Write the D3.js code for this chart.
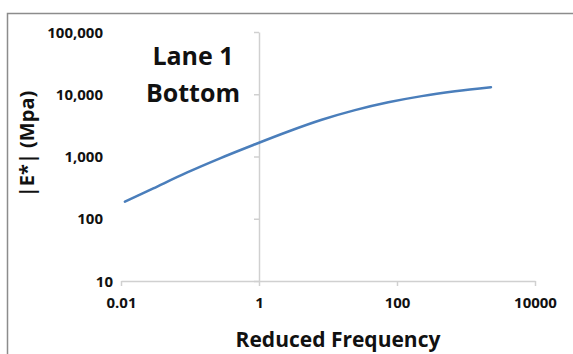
<!DOCTYPE html>
<html>
<head>
<meta charset="utf-8">
<script src="https://cdn.jsdelivr.net/npm/d3@7"></script>
<style>
  html, body { margin: 0; padding: 0; background: #fff; }
  svg { display: block; }
  text { font-family: "Open Sans", "Liberation Sans", sans-serif; font-weight: 700; fill: #111; }
</style>
</head>
<body>
<svg id="chart" width="573" height="354"></svg>
<script>
// Master curve of dynamic modulus |E*| against reduced frequency
const frequency = [0.0114, 0.0294, 0.0895, 0.272, 0.826, 2.66, 8.11, 24.6, 74.8, 228, 693, 2300];
const modulus   = [188, 308, 550, 935, 1531, 2523, 3890, 5560, 7430, 9330, 11140, 13000];

const xTicks = [0.01, 1, 100, 10000];
const xTickLabels = ["0.01", "1", "100", "10000"];
const yTicks = [10, 100, 1000, 10000, 100000];
const yTickLabels = ["10", "100", "1,000", "10,000", "100,000"];

const titleLines = ["Lane 1", "Bottom"];
const xTitle = "Reduced Frequency";
const yTitle = "|E*| (Mpa)";

const svg = d3.select("#chart");

// outer chart frame
svg.append("rect")
  .attr("x", 7.5).attr("y", 13.5)
  .attr("width", 700).attr("height", 500)
  .attr("fill", "none")
  .attr("stroke", "#8c8c8c")
  .attr("stroke-width", 1.5);

const x = d3.scaleLog().domain([0.01, 10000]).range([121, 535]);
const y = d3.scaleLog().domain([10, 100000]).range([281, 32]);

const axisColor = "#d0d0d0";

// x axis along the bottom, y axis crossing at frequency 1
const xAxis = svg.append("g")
  .attr("transform", `translate(0,${y(10)})`)
  .call(d3.axisBottom(x).tickValues(xTicks).tickSize(5).tickSizeOuter(0)
        .tickFormat((d, i) => xTickLabels[i]));

const yAxis = svg.append("g")
  .attr("transform", `translate(${x(1)},0)`)
  .call(d3.axisLeft(y).tickValues(yTicks).tickSize(5).tickSizeOuter(0)
        .tickFormat((d, i) => yTickLabels[i]));

[xAxis, yAxis].forEach(g => {
  g.select(".domain").attr("stroke", axisColor).attr("stroke-width", 1.5);
  g.selectAll(".tick line").attr("stroke", axisColor).attr("stroke-width", 1.5);
  g.selectAll(".tick text").attr("fill", "#111").style("font-size", "15px")
    .style("font-family", "'Open Sans', sans-serif").style("font-weight", 700);
});
xAxis.selectAll(".tick text").attr("dy", "1.25em");

// y labels sit out at the left edge of the plot
yAxis.selectAll(".tick text")
  .attr("x", d => d === 10 ? 113 - x(1) : 103 - x(1))
  .attr("dy", "0.34em");

// modulus curve
const line = d3.line()
  .x((d, i) => x(frequency[i]))
  .y(d => y(d))
  .curve(d3.curveCatmullRom);

svg.append("path")
  .datum(modulus)
  .attr("d", line)
  .attr("fill", "none")
  .attr("stroke", "#4a7ebb")
  .attr("stroke-width", 2.5)
  .attr("stroke-linecap", "round");

// in-plot title
svg.append("text")
  .attr("text-anchor", "middle")
  .style("font-size", "25px")
  .selectAll("tspan")
  .data(titleLines)
  .join("tspan")
  .attr("x", 193)
  .attr("y", (d, i) => 65 + i * 37)
  .text(d => d);

// axis titles
svg.append("text")
  .attr("x", 338).attr("y", 347)
  .attr("text-anchor", "middle")
  .style("font-size", "21px")
  .text(xTitle);

svg.append("text")
  .attr("transform", "translate(34,144) rotate(-90)")
  .attr("text-anchor", "middle")
  .style("font-size", "20px")
  .text(yTitle);
</script>
</body>
</html>
